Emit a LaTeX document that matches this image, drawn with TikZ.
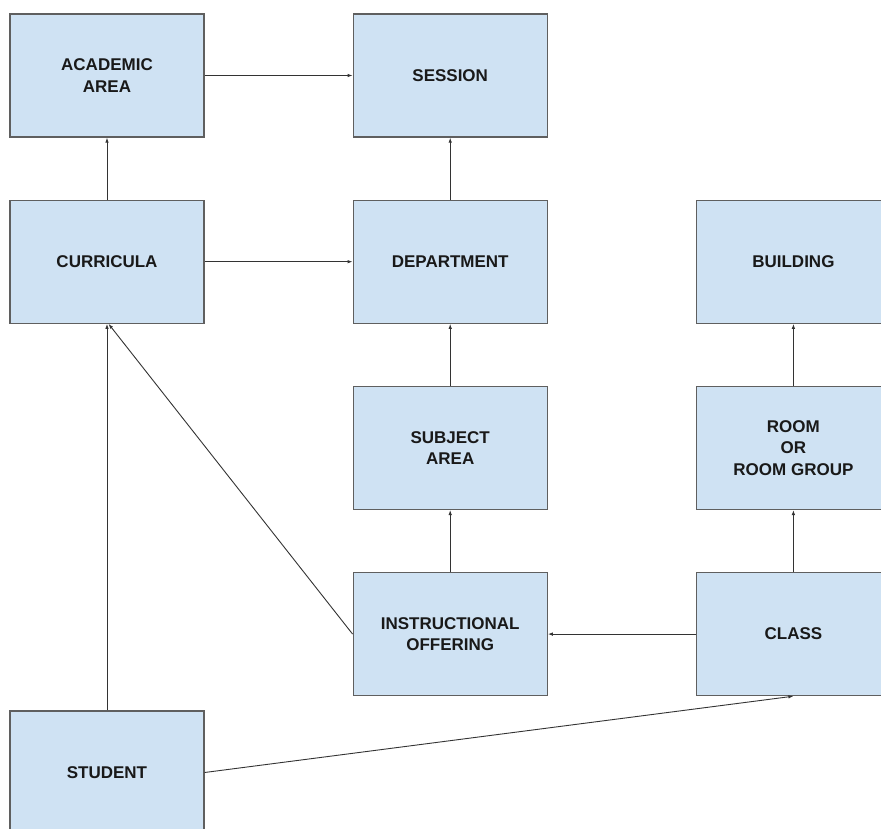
\documentclass[tikz,border=0pt]{standalone}
\usepackage{fontspec}
\setmainfont{Liberation Sans}
\usetikzlibrary{arrows.meta, positioning}
\definecolor{BoxBlue}{HTML}{CFE2F3}
\definecolor{EdgeGray}{HTML}{5F5F5F}
\definecolor{LineGray}{HTML}{333333}

\begin{document}
\begin{tikzpicture}[
  x=1pt, y=-1pt,
  node distance=62pt and 148pt,
  entity/.style={rectangle, draw=EdgeGray, fill=BoxBlue, line width=1.2pt,
                 minimum width=194pt, minimum height=123pt, inner sep=0pt,
                 align=center, text=black!90,
                 font=\fontsize{17}{21.5}\selectfont\bfseries},
  arr/.style={-{Latex[length=5pt, width=3.5pt]}, line width=0.9pt, LineGray},
]
\useasboundingbox (0,0) rectangle (881,829);
\clip (0,0) rectangle (881,829);

% first column
\node[entity] (acad) at (107,75.5) {ACADEMIC\\AREA};
\node[entity, below=of acad] (curricula) {CURRICULA};
\node[entity] (student) at (107,772.5) {STUDENT};

% second column
\node[entity, right=of acad] (session) {SESSION};
\node[entity, below=of session] (dept) {DEPARTMENT};
\node[entity, below=of dept] (subject) {SUBJECT\\AREA};
\node[entity, below=of subject] (offering) {INSTRUCTIONAL\\OFFERING};

% third column
\node[entity, right=of dept] (building) {BUILDING};
\node[entity, below=of building] (room) {ROOM\\OR\\ROOM GROUP};
\node[entity, below=of room] (class) {CLASS};

\draw[arr] (acad) -- (session);
\draw[arr] (curricula) -- (acad);
\draw[arr] (curricula) -- (dept);
\draw[arr] (dept) -- (session);
\draw[arr] (subject) -- (dept);
\draw[arr] (offering) -- (subject);
\draw[arr] (room) -- (building);
\draw[arr] (class) -- (room);
\draw[arr] (class) -- (offering);
\draw[arr] (offering.west) -- ([xshift=1.5pt]curricula.south);
\draw[arr] (student) -- (curricula);
\draw[arr] (student.east) -- (class.south);

\end{tikzpicture}
\end{document}
